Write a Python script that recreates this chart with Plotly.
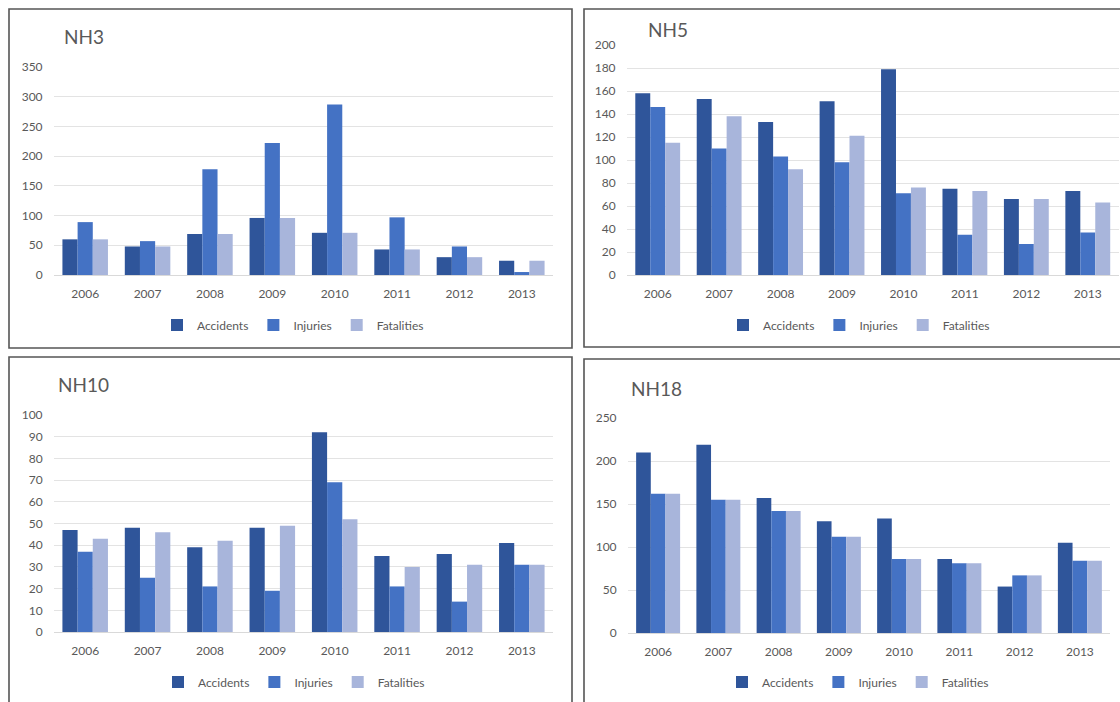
import plotly.graph_objects as go

years = ["2006", "2007", "2008", "2009", "2010", "2011", "2012", "2013"]
series_names = ["Accidents", "Injuries", "Fatalities"]

nh3_accidents = [60, 48, 69, 96, 71, 43, 30, 24]
nh3_injuries = [89, 57, 178, 222, 287, 97, 48, 5]
nh3_fatalities = [60, 48, 69, 96, 71, 43, 30, 24]

nh5_accidents = [158, 153, 133, 151, 179, 75, 66, 73]
nh5_injuries = [146, 110, 103, 98, 71, 35, 27, 37]
nh5_fatalities = [115, 138, 92, 121, 76, 73, 66, 63]

nh10_accidents = [47, 48, 39, 48, 92, 35, 36, 41]
nh10_injuries = [37, 25, 21, 19, 69, 21, 14, 31]
nh10_fatalities = [43, 46, 42, 49, 52, 30, 31, 31]

nh18_accidents = [210, 219, 157, 130, 133, 86, 54, 105]
nh18_injuries = [162, 155, 142, 112, 86, 81, 67, 84]
nh18_fatalities = [162, 155, 142, 112, 86, 81, 67, 84]

panel_titles = ["NH3", "NH5", "NH10", "NH18"]
panel_ranges = [350, 200, 100, 250]
panel_dticks = [50, 20, 10, 50]

panels = [
    (nh3_accidents, nh3_injuries, nh3_fatalities),
    (nh5_accidents, nh5_injuries, nh5_fatalities),
    (nh10_accidents, nh10_injuries, nh10_fatalities),
    (nh18_accidents, nh18_injuries, nh18_fatalities),
]

colors = ["#2F559A", "#4472C4", "#A8B5DB"]

W, H = 1120, 702
FONT = "Lato, 'Open Sans', sans-serif"
GRAY = "#595959"

layouts = [
    dict(x=(54, 553), y=(67, 275), title=(62, 36), legend=(293, 325)),
    dict(x=(627, 1118.5), y=(45, 275), title=(646, 30), legend=(859, 325)),
    dict(x=(54, 553), y=(415, 632), title=(56, 384), legend=(294, 682)),
    dict(x=(628, 1110), y=(418, 633), title=(629, 388), legend=(858, 682)),
]

fig = go.Figure()
layout_kw = {}
annotations = []
shapes = []

for i, (vals, lay) in enumerate(zip(panels, layouts)):
    idx = "" if i == 0 else str(i + 1)
    legend_name = "legend" + idx
    for name, v, c in zip(series_names, vals, colors):
        fig.add_trace(go.Bar(
            x=years, y=v, name=name, marker=dict(color=c, line=dict(width=0)),
            xaxis="x" + idx, yaxis="y" + idx, legend=legend_name,
            hovertemplate="%{x}: %{y}<extra>" + name + "</extra>",
        ))
    layout_kw["xaxis" + idx] = dict(
        domain=[lay["x"][0] / W, lay["x"][1] / W],
        anchor="y" + idx, type="category",
        showline=True, linecolor="#D9D9D9", linewidth=1,
        showgrid=False, ticks="outside", ticklen=8, tickcolor="rgba(0,0,0,0)",
        tickfont=dict(family=FONT, size=12, color=GRAY), fixedrange=True,
    )
    layout_kw["yaxis" + idx] = dict(
        domain=[1 - lay["y"][1] / H, 1 - lay["y"][0] / H],
        anchor="x" + idx, range=[0, panel_ranges[i]], dtick=panel_dticks[i],
        showgrid=True, gridcolor="#E3E3E3", gridwidth=1, zeroline=False,
        showline=False, ticks="outside", ticklen=8, tickcolor="rgba(0,0,0,0)",
        tickfont=dict(family=FONT, size=12, color=GRAY), fixedrange=True,
    )
    layout_kw[legend_name] = dict(
        orientation="h", x=lay["legend"][0] / W, y=1 - lay["legend"][1] / H,
        xanchor="center", yanchor="middle", xref="paper", yref="paper",
        font=dict(family=FONT, size=12, color=GRAY), itemwidth=30,
        bgcolor="rgba(0,0,0,0)", traceorder="normal",
    )
    annotations.append(dict(
        text=panel_titles[i], x=lay["title"][0] / W, y=1 - lay["title"][1] / H,
        xref="paper", yref="paper", xanchor="left", yanchor="middle",
        showarrow=False, font=dict(family=FONT, size=19, color=GRAY),
    ))

frames = [(9, 9, 572, 348), (584, 9, 1130, 347), (9, 357, 572, 712), (584, 359, 1130, 712)]
for x0, y0, x1, y1 in frames:
    shapes.append(dict(
        type="rect", xref="paper", yref="paper",
        x0=x0 / W, x1=x1 / W, y0=1 - y0 / H, y1=1 - y1 / H,
        line=dict(color="#555555", width=1.6), fillcolor="rgba(0,0,0,0)", layer="above",
    ))

fig.update_layout(
    width=W, height=H, margin=dict(l=0, r=0, t=0, b=0, autoexpand=False),
    paper_bgcolor="white", plot_bgcolor="white",
    barmode="group", bargap=0.27, bargroupgap=0,
    annotations=annotations, shapes=shapes,
    **layout_kw,
)

fig.write_html("out.html", config={"displayModeBar": False})
